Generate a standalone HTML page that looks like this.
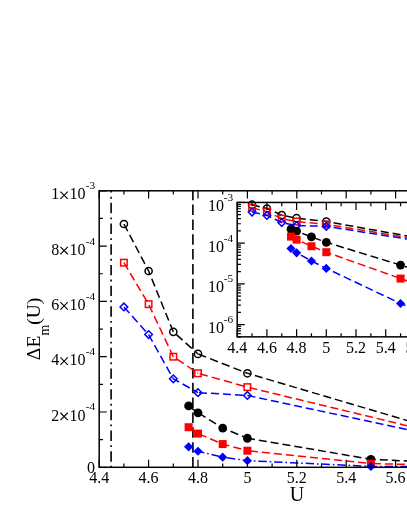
<!DOCTYPE html>
<html><head><meta charset="utf-8"><title>chart</title>
<style>html,body{margin:0;padding:0;background:#fff}body{width:407px;height:527px;overflow:hidden}svg{display:block;will-change:transform}text{font-family:"Liberation Serif",serif;fill:#000}</style></head><body>
<svg width="407" height="527" viewBox="0 0 407 527">
<rect width="407" height="527" fill="#fff"/>
<g fill="none">
<line x1="111.1" y1="190.8" x2="111.1" y2="467.3" stroke="#000" stroke-width="1.6" stroke-dasharray="10.4 4.2 1.9 4.2" stroke-dashoffset="8.65"/>
<line x1="192.9" y1="190.8" x2="192.9" y2="467.3" stroke="#000" stroke-width="1.6" stroke-dasharray="10.5 4.35" stroke-dashoffset="1.1"/>
<polyline points="123.90,223.98 148.60,270.99 173.30,331.82 198.00,353.94" stroke="#000" stroke-width="1.5" stroke-dasharray="8.2 4.1"/>
<line x1="198.00" y1="353.94" x2="247.40" y2="373.29" stroke="#000" stroke-width="1.5" stroke-dasharray="8.4 4.2" stroke-dashoffset="12.3"/>
<line x1="247.40" y1="373.29" x2="494.40" y2="446.29" stroke="#000" stroke-width="1.5" stroke-dasharray="8 3.9" stroke-dashoffset="4.1"/>
<circle cx="123.90" cy="223.98" r="3.6" fill="none" stroke="#000" stroke-width="1.5"/>
<circle cx="148.60" cy="270.99" r="3.6" fill="none" stroke="#000" stroke-width="1.5"/>
<circle cx="173.30" cy="331.82" r="3.6" fill="none" stroke="#000" stroke-width="1.5"/>
<circle cx="198.00" cy="353.94" r="3.6" fill="none" stroke="#000" stroke-width="1.5"/>
<circle cx="247.40" cy="373.29" r="3.6" fill="none" stroke="#000" stroke-width="1.5"/>
<polyline points="123.90,262.69 148.60,304.17 173.30,356.70 198.00,373.29" stroke="#f00" stroke-width="1.5" stroke-dasharray="8.2 4.1"/>
<line x1="198.00" y1="373.29" x2="247.40" y2="387.12" stroke="#f00" stroke-width="1.5" stroke-dasharray="8.4 4.2" stroke-dashoffset="10.9"/>
<line x1="247.40" y1="387.12" x2="494.40" y2="446.84" stroke="#f00" stroke-width="1.5" stroke-dasharray="8 3.9" stroke-dashoffset="9.73"/>
<rect x="120.65" y="259.44" width="6.5" height="6.5" fill="none" stroke="#f00" stroke-width="1.5"/>
<rect x="145.35" y="300.92" width="6.5" height="6.5" fill="none" stroke="#f00" stroke-width="1.5"/>
<rect x="170.05" y="353.45" width="6.5" height="6.5" fill="none" stroke="#f00" stroke-width="1.5"/>
<rect x="194.75" y="370.04" width="6.5" height="6.5" fill="none" stroke="#f00" stroke-width="1.5"/>
<rect x="244.15" y="383.87" width="6.5" height="6.5" fill="none" stroke="#f00" stroke-width="1.5"/>
<polyline points="123.90,306.93 148.60,334.58 173.30,378.82 198.00,392.64" stroke="#00f" stroke-width="1.5" stroke-dasharray="8.2 4.1"/>
<line x1="198.00" y1="392.64" x2="247.40" y2="395.41" stroke="#00f" stroke-width="1.5" stroke-dasharray="8 4" stroke-dashoffset="11.0"/>
<line x1="247.40" y1="395.41" x2="494.40" y2="448.22" stroke="#00f" stroke-width="1.5" stroke-dasharray="8 3.9" stroke-dashoffset="11.7"/>
<path d="M120.10 306.93L123.90 303.13L127.70 306.93L123.90 310.73Z" fill="none" stroke="#00f" stroke-width="1.5"/>
<path d="M144.80 334.58L148.60 330.78L152.40 334.58L148.60 338.38Z" fill="none" stroke="#00f" stroke-width="1.5"/>
<path d="M169.50 378.82L173.30 375.02L177.10 378.82L173.30 382.62Z" fill="none" stroke="#00f" stroke-width="1.5"/>
<path d="M194.20 392.64L198.00 388.84L201.80 392.64L198.00 396.44Z" fill="none" stroke="#00f" stroke-width="1.5"/>
<path d="M243.60 395.41L247.40 391.61L251.20 395.41L247.40 399.21Z" fill="none" stroke="#00f" stroke-width="1.5"/>
<polyline points="188.61,405.92 198.00,412.83 222.70,428.04 247.40,438.27" stroke="#000" stroke-width="1.5" stroke-dasharray="8.2 4.1"/>
<line x1="247.40" y1="438.27" x2="370.90" y2="459.28" stroke="#000" stroke-width="1.5" stroke-dasharray="8 4" stroke-dashoffset="0.4"/>
<line x1="370.90" y1="459.28" x2="494.40" y2="465.09" stroke="#000" stroke-width="1.5" stroke-dasharray="8 4" stroke-dashoffset="3.1"/>
<circle cx="188.61" cy="405.92" r="4.4" fill="#000"/>
<circle cx="198.00" cy="412.83" r="4.4" fill="#000"/>
<circle cx="222.70" cy="428.04" r="4.4" fill="#000"/>
<circle cx="247.40" cy="438.27" r="4.4" fill="#000"/>
<circle cx="370.90" cy="459.28" r="4.4" fill="#000"/>
<polyline points="188.61,427.21 198.00,433.57 222.70,444.07 247.40,450.71" stroke="#f00" stroke-width="1.5" stroke-dasharray="8.2 4.1"/>
<line x1="247.40" y1="450.71" x2="370.90" y2="463.57" stroke="#f00" stroke-width="1.5" stroke-dasharray="8.1 4" stroke-dashoffset="9.72"/>
<line x1="370.90" y1="463.57" x2="494.40" y2="466.47" stroke="#f00" stroke-width="1.5" stroke-dasharray="8 4" stroke-dashoffset="10"/>
<rect x="184.61" y="423.21" width="8" height="8" fill="#f00"/>
<rect x="194.00" y="429.57" width="8" height="8" fill="#f00"/>
<rect x="218.70" y="440.07" width="8" height="8" fill="#f00"/>
<rect x="243.40" y="446.71" width="8" height="8" fill="#f00"/>
<rect x="366.90" y="459.57" width="8" height="8" fill="#f00"/>
<polyline points="188.61,446.84 198.00,451.26 222.70,457.21 247.40,460.66 370.90,466.39 494.40,467.13" stroke="#00f" stroke-width="1.5" stroke-dasharray="8.4 2.9 1.6 2.9" stroke-dashoffset="7.3"/>
<path d="M184.01 446.84L188.61 442.24L193.21 446.84L188.61 451.44Z" fill="#00f"/>
<path d="M193.40 451.26L198.00 446.66L202.60 451.26L198.00 455.86Z" fill="#00f"/>
<path d="M218.10 457.21L222.70 452.61L227.30 457.21L222.70 461.81Z" fill="#00f"/>
<path d="M242.80 460.66L247.40 456.06L252.00 460.66L247.40 465.26Z" fill="#00f"/>
<path d="M366.30 466.39L370.90 461.79L375.50 466.39L370.90 470.99Z" fill="#00f"/>
</g>
<g stroke="#000" fill="none">
<rect x="99.2" y="190.8" width="395.20" height="276.50" stroke-width="1.5"/>
<path d="M99.20 467.3v-7.6M99.20 190.8v7.6M123.90 467.3v-3.7M123.90 190.8v3.7M148.60 467.3v-7.6M148.60 190.8v7.6M173.30 467.3v-3.7M173.30 190.8v3.7M198.00 467.3v-7.6M198.00 190.8v7.6M222.70 467.3v-3.7M222.70 190.8v3.7M247.40 467.3v-7.6M247.40 190.8v7.6M272.10 467.3v-3.7M272.10 190.8v3.7M296.80 467.3v-7.6M296.80 190.8v7.6M321.50 467.3v-3.7M321.50 190.8v3.7M346.20 467.3v-7.6M346.20 190.8v7.6M370.90 467.3v-3.7M370.90 190.8v3.7M395.60 467.3v-7.6M395.60 190.8v7.6M420.30 467.3v-3.7M420.30 190.8v3.7M445.00 467.3v-7.6M445.00 190.8v7.6M469.70 467.3v-3.7M469.70 190.8v3.7M494.40 467.3v-7.6M494.40 190.8v7.6M99.2 467.30h7.6M99.2 439.65h3.7M99.2 412.00h7.6M99.2 384.35h3.7M99.2 356.70h7.6M99.2 329.05h3.7M99.2 301.40h7.6M99.2 273.75h3.7M99.2 246.10h7.6M99.2 218.45h3.7M99.2 190.80h7.6" stroke-width="1.2"/>
</g>
<g font-size="16px">
<text x="99.20" y="483.3" text-anchor="middle">4.4</text>
<text x="148.60" y="483.3" text-anchor="middle">4.6</text>
<text x="198.00" y="483.3" text-anchor="middle">4.8</text>
<text x="247.40" y="483.3" text-anchor="middle">5</text>
<text x="296.80" y="483.3" text-anchor="middle">5.2</text>
<text x="346.20" y="483.3" text-anchor="middle">5.4</text>
<text x="395.60" y="483.3" text-anchor="middle">5.6</text>
<text x="445.00" y="483.3" text-anchor="middle">5.8</text>
<text x="94.9" y="472.6" text-anchor="end">0</text>
<text x="51.2" y="420.50">2</text><text x="69.4" y="420.50">10</text>
<path d="M60.40 412.75l7.4 7.4M67.80 412.75l-7.4 7.4" stroke="#000" stroke-width="1.1" fill="none"/>
<text x="95.2" y="410.40" text-anchor="end" font-size="11.3px">-4</text>
<text x="51.2" y="365.20">4</text><text x="69.4" y="365.20">10</text>
<path d="M60.40 357.45l7.4 7.4M67.80 357.45l-7.4 7.4" stroke="#000" stroke-width="1.1" fill="none"/>
<text x="95.2" y="355.10" text-anchor="end" font-size="11.3px">-4</text>
<text x="51.2" y="309.90">6</text><text x="69.4" y="309.90">10</text>
<path d="M60.40 302.15l7.4 7.4M67.80 302.15l-7.4 7.4" stroke="#000" stroke-width="1.1" fill="none"/>
<text x="95.2" y="299.80" text-anchor="end" font-size="11.3px">-4</text>
<text x="51.2" y="254.60">8</text><text x="69.4" y="254.60">10</text>
<path d="M60.40 246.85l7.4 7.4M67.80 246.85l-7.4 7.4" stroke="#000" stroke-width="1.1" fill="none"/>
<text x="95.2" y="244.50" text-anchor="end" font-size="11.3px">-4</text>
<text x="51.2" y="199.30">1</text><text x="69.4" y="199.30">10</text>
<path d="M60.40 191.55l7.4 7.4M67.80 191.55l-7.4 7.4" stroke="#000" stroke-width="1.1" fill="none"/>
<text x="95.2" y="189.20" text-anchor="end" font-size="11.3px">-3</text>
</g>
<text x="296.9" y="500.6" text-anchor="middle" font-size="20px">U</text>
<text transform="translate(40.4,328.9) rotate(-90)" text-anchor="middle" font-size="19.6px">ΔE<tspan font-size="13.9px" dy="8.1">m</tspan><tspan dy="-8.1">(U)</tspan></text>
<g fill="none">
<clipPath id="ic"><rect x="237.2" y="202.45" width="237.60" height="134.40"/></clipPath>
<polyline points="252.05,204.71 266.90,208.51 281.75,215.07 296.60,218.22 326.30,221.53 474.80,248.02" stroke="#000" stroke-width="1.5" stroke-dasharray="8 4"/>
<circle cx="252.05" cy="204.71" r="3.6" fill="none" stroke="#000" stroke-width="1.5"/>
<circle cx="266.90" cy="208.51" r="3.6" fill="none" stroke="#000" stroke-width="1.5"/>
<circle cx="281.75" cy="215.07" r="3.6" fill="none" stroke="#000" stroke-width="1.5"/>
<circle cx="296.60" cy="218.22" r="3.6" fill="none" stroke="#000" stroke-width="1.5"/>
<circle cx="326.30" cy="221.53" r="3.6" fill="none" stroke="#000" stroke-width="1.5"/>
<polyline points="252.05,207.77 266.90,211.78 281.75,218.65 296.60,221.53 326.30,224.34 474.80,248.49" stroke="#f00" stroke-width="1.5" stroke-dasharray="8 4"/>
<rect x="248.80" y="204.52" width="6.5" height="6.5" fill="none" stroke="#f00" stroke-width="1.5"/>
<rect x="263.65" y="208.53" width="6.5" height="6.5" fill="none" stroke="#f00" stroke-width="1.5"/>
<rect x="278.50" y="215.40" width="6.5" height="6.5" fill="none" stroke="#f00" stroke-width="1.5"/>
<rect x="293.35" y="218.28" width="6.5" height="6.5" fill="none" stroke="#f00" stroke-width="1.5"/>
<rect x="323.05" y="221.09" width="6.5" height="6.5" fill="none" stroke="#f00" stroke-width="1.5"/>
<polyline points="252.05,212.08 266.90,215.43 281.75,222.60 296.60,225.60 326.30,226.27 474.80,249.73" stroke="#00f" stroke-width="1.5" stroke-dasharray="8 4"/>
<path d="M248.25 212.08L252.05 208.28L255.85 212.08L252.05 215.88Z" fill="none" stroke="#00f" stroke-width="1.5"/>
<path d="M263.10 215.43L266.90 211.63L270.70 215.43L266.90 219.23Z" fill="none" stroke="#00f" stroke-width="1.5"/>
<path d="M277.95 222.60L281.75 218.80L285.55 222.60L281.75 226.40Z" fill="none" stroke="#00f" stroke-width="1.5"/>
<path d="M292.80 225.60L296.60 221.80L300.40 225.60L296.60 229.40Z" fill="none" stroke="#00f" stroke-width="1.5"/>
<path d="M322.50 226.27L326.30 222.47L330.10 226.27L326.30 230.07Z" fill="none" stroke="#00f" stroke-width="1.5"/>
<polyline points="290.96,229.07 296.60,231.18 311.45,236.97 326.30,242.31 400.55,265.06 474.80,287.84" stroke="#000" stroke-width="1.5" stroke-dasharray="8 4"/>
<circle cx="290.96" cy="229.07" r="4.4" fill="#000"/>
<circle cx="296.60" cy="231.18" r="4.4" fill="#000"/>
<circle cx="311.45" cy="236.97" r="4.4" fill="#000"/>
<circle cx="326.30" cy="242.31" r="4.4" fill="#000"/>
<circle cx="400.55" cy="265.06" r="4.4" fill="#000"/>
<polyline points="290.96,236.60 296.60,239.65 311.45,246.25 326.30,252.20 400.55,278.58 474.80,305.18" stroke="#f00" stroke-width="1.5" stroke-dasharray="8 4"/>
<rect x="286.96" y="232.60" width="8" height="8" fill="#f00"/>
<rect x="292.60" y="235.65" width="8" height="8" fill="#f00"/>
<rect x="307.45" y="242.25" width="8" height="8" fill="#f00"/>
<rect x="322.30" y="248.20" width="8" height="8" fill="#f00"/>
<rect x="396.55" y="274.58" width="8" height="8" fill="#f00"/>
<polyline points="290.96,248.49 296.60,252.80 311.45,260.99 326.30,268.41 400.55,303.50 474.80,333.64" stroke="#00f" stroke-width="1.5" stroke-dasharray="8 4"/>
<path d="M286.36 248.49L290.96 243.89L295.56 248.49L290.96 253.09Z" fill="#00f"/>
<path d="M292.00 252.80L296.60 248.20L301.20 252.80L296.60 257.40Z" fill="#00f"/>
<path d="M306.85 260.99L311.45 256.39L316.05 260.99L311.45 265.59Z" fill="#00f"/>
<path d="M321.70 268.41L326.30 263.81L330.90 268.41L326.30 273.01Z" fill="#00f"/>
<path d="M395.95 303.50L400.55 298.90L405.15 303.50L400.55 308.10Z" fill="#00f"/>
</g>
<g stroke="#000" fill="none">
<rect x="237.2" y="202.45" width="237.60" height="134.40" stroke-width="1.5"/>
<path d="M237.20 336.85v-7.6M237.20 202.45v7.6M252.05 336.85v-3.7M252.05 202.45v3.7M266.90 336.85v-7.6M266.90 202.45v7.6M281.75 336.85v-3.7M281.75 202.45v3.7M296.60 336.85v-7.6M296.60 202.45v7.6M311.45 336.85v-3.7M311.45 202.45v3.7M326.30 336.85v-7.6M326.30 202.45v7.6M341.15 336.85v-3.7M341.15 202.45v3.7M356.00 336.85v-7.6M356.00 202.45v7.6M370.85 336.85v-3.7M370.85 202.45v3.7M385.70 336.85v-7.6M385.70 202.45v7.6M400.55 336.85v-3.7M400.55 202.45v3.7M415.40 336.85v-7.6M415.40 202.45v7.6M430.25 336.85v-3.7M430.25 202.45v3.7M445.10 336.85v-7.6M445.10 202.45v7.6M459.95 336.85v-3.7M459.95 202.45v3.7M474.80 336.85v-7.6M474.80 202.45v7.6M237.2 336.87h3.7M237.2 333.64h3.7M237.2 330.92h3.7M237.2 328.56h3.7M237.2 326.47h3.7M237.2 324.61h7.6M237.2 312.35h3.7M237.2 305.18h3.7M237.2 300.09h3.7M237.2 296.15h3.7M237.2 292.92h3.7M237.2 290.20h3.7M237.2 287.84h3.7M237.2 285.75h3.7M237.2 283.89h7.6M237.2 271.63h3.7M237.2 264.46h3.7M237.2 259.37h3.7M237.2 255.43h3.7M237.2 252.20h3.7M237.2 249.48h3.7M237.2 247.12h3.7M237.2 245.03h3.7M237.2 243.17h7.6M237.2 230.91h3.7M237.2 223.74h3.7M237.2 218.65h3.7M237.2 214.71h3.7M237.2 211.48h3.7M237.2 208.76h3.7M237.2 206.40h3.7M237.2 204.31h3.7M237.2 202.45h7.6" stroke-width="1.2"/>
</g>
<g font-size="16px">
<text x="237.20" y="352.5" text-anchor="middle">4.4</text>
<text x="266.90" y="352.5" text-anchor="middle">4.6</text>
<text x="296.60" y="352.5" text-anchor="middle">4.8</text>
<text x="326.30" y="352.5" text-anchor="middle">5</text>
<text x="356.00" y="352.5" text-anchor="middle">5.2</text>
<text x="385.70" y="352.5" text-anchor="middle">5.4</text>
<text x="415.40" y="352.5" text-anchor="middle">5.6</text>
<text x="207.9" y="210.95">10</text>
<text x="233.1" y="200.85" text-anchor="end" font-size="11.3px">-3</text>
<text x="207.9" y="251.67">10</text>
<text x="233.1" y="241.57" text-anchor="end" font-size="11.3px">-4</text>
<text x="207.9" y="292.39">10</text>
<text x="233.1" y="282.29" text-anchor="end" font-size="11.3px">-5</text>
<text x="207.9" y="333.11">10</text>
<text x="233.1" y="323.01" text-anchor="end" font-size="11.3px">-6</text>
</g>
</svg></body></html>
